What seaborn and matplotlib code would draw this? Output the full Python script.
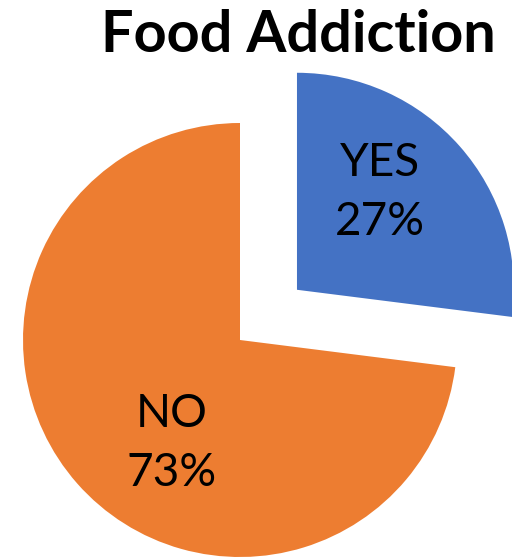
import matplotlib
matplotlib.use("Agg")
import matplotlib.pyplot as plt
import seaborn as sns
import numpy as np

# data
labels = ["YES", "NO"]
shares = [27, 73]
colors = ["#4472C4", "#ED7D31"]
title = "Food Addiction"

sns.set_theme(style="white")
plt.rcParams["font.family"] = ["Lato", "DejaVu Sans"]

W, H = 512, 557
R = 217
fig = plt.figure(figsize=(W / 100, H / 100), dpi=100)
ax = fig.add_axes([0, 0, 1, 1])

# explode is in data units here (radius is in pixels)
wedges, texts = ax.pie(
    shares,
    colors=colors,
    startangle=90,
    counterclock=False,
    explode=[0.35 * R, 0],
    center=(240, H - 340),
    radius=R,
    wedgeprops=dict(linewidth=0),
    frame=True,
)

# data labels, nudged a bit inside each wedge like the office chart
label_dist = [0.59, 0.57]
label_turn = [8, 15]
for w, lab, v, d, turn in zip(wedges, labels, shares, label_dist, label_turn):
    ang = np.deg2rad((w.theta1 + w.theta2) / 2 + turn)
    cx, cy = w.center
    ax.text(cx + d * w.r * np.cos(ang), cy + d * w.r * np.sin(ang),
            f"{lab}\n{v}%", ha="center", va="center", fontsize=33,
            color="black", linespacing=1.5)

ax.set_xlim(0, W)
ax.set_ylim(0, H)
ax.set_aspect("equal")
ax.axis("off")

fig.text(298 / W, 1 - 35 / H, title, ha="center", va="center",
         fontsize=41.5, fontweight="bold", color="black")

fig.savefig("out.png", dpi=100)
